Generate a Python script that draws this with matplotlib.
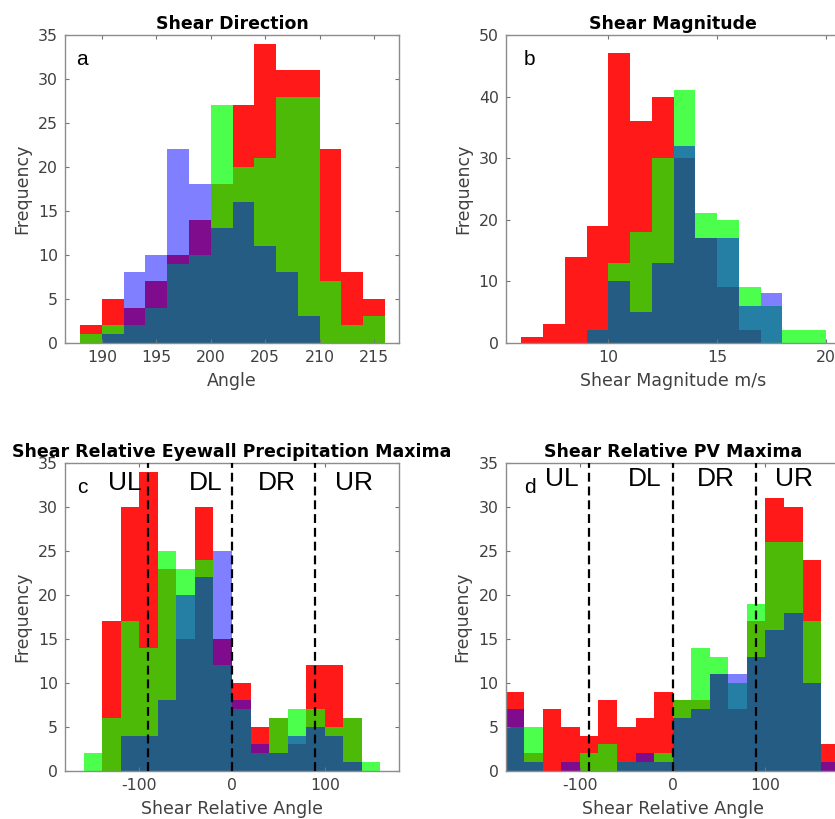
import numpy as np
import matplotlib
matplotlib.use('Agg')
import matplotlib.pyplot as plt

# bin edges and counts for each panel (red, green, blue series)
a_edges = np.arange(188, 218, 2)
a_red = [2, 5, 4, 7, 10, 14, 18, 27, 34, 31, 31, 22, 8, 5]
a_green = [1, 2, 2, 4, 9, 10, 27, 20, 21, 28, 28, 7, 2, 3]
a_blue = [0, 1, 8, 10, 22, 18, 13, 16, 11, 8, 3, 0, 0, 0]

b_edges = np.arange(6, 21, 1)
b_red = [1, 3, 14, 19, 47, 36, 40, 30, 17, 9, 2, 0, 0, 0]
b_green = [0, 0, 0, 2, 13, 18, 30, 41, 21, 20, 9, 6, 2, 2]
b_blue = [0, 0, 0, 2, 10, 5, 13, 32, 17, 17, 6, 8, 0, 0]

c_edges = np.arange(-160, 180, 20)
c_red = [0, 17, 30, 34, 23, 15, 30, 15, 10, 5, 6, 3, 12, 12, 6, 0]
c_green = [2, 6, 17, 14, 25, 23, 24, 12, 7, 2, 6, 7, 7, 5, 6, 1]
c_blue = [0, 0, 4, 4, 8, 20, 22, 25, 8, 3, 2, 4, 5, 4, 1, 0]

d_edges = np.arange(-180, 200, 20)
d_red = [9, 2, 7, 5, 4, 8, 5, 6, 9, 8, 8, 11, 7, 17, 31, 30, 24, 3]
d_green = [5, 5, 0, 0, 2, 3, 1, 1, 2, 8, 14, 13, 10, 19, 26, 26, 17, 0]
d_blue = [7, 1, 0, 1, 0, 0, 1, 2, 1, 6, 7, 11, 11, 13, 16, 18, 10, 1]

quadrants = ['UL', 'DL', 'DR', 'UR']
quad_lines = [-90, 0, 90]

plt.rcParams['font.family'] = 'DejaVu Sans'
plt.rcParams['axes.unicode_minus'] = False

fig = plt.figure(figsize=(8.35, 8.19), dpi=100)


def panel(rect, edges, red, green, blue, title, xlabel, letter, xlim, ylim,
          xticks, yticks, letter_x):
    ax = fig.add_axes(rect)
    ax.stairs(red, edges, fill=True, color=(1, 0, 0), alpha=0.9, linewidth=0)
    ax.stairs(green, edges, fill=True, color=(0, 1, 0), alpha=0.7, linewidth=0)
    ax.stairs(blue, edges, fill=True, color=(0, 0, 1), alpha=0.5, linewidth=0)
    ax.set_xlim(*xlim)
    ax.set_ylim(*ylim)
    ax.set_xticks(xticks)
    ax.set_yticks(yticks)
    ax.tick_params(direction='in', top=True, right=True, length=3, width=0.8,
                   color='0.45', labelcolor='0.25', labelsize=11.3, pad=5)
    for s in ax.spines.values():
        s.set_color('0.55')
        s.set_linewidth(1.0)
    ax.set_title(title, fontsize=12.5, fontweight='bold', pad=4.5)
    ax.set_xlabel(xlabel, fontsize=12.5, color='0.25', labelpad=5)
    ax.set_ylabel('Frequency', fontsize=12.5, color='0.25', labelpad=5)
    ax.text(letter_x, 0.903, letter, transform=ax.transAxes, fontsize=15,
            family='Liberation Sans', ha='center', va='baseline')
    return ax


ax_a = panel([0.0778, 0.5816, 0.4, 0.3757], a_edges, a_red, a_green, a_blue,
             'Shear Direction', 'Angle', 'a', (186.6, 217.3), (0, 35),
             [190, 195, 200, 205, 210, 215], np.arange(0, 36, 5), 0.051)
ax_b = panel([0.6056, 0.5816, 0.4, 0.3757], b_edges, b_red, b_green, b_blue,
             'Shear Magnitude', 'Shear Magnitude m/s', 'b', (5.28, 20.64), (0, 50),
             [10, 15, 20], np.arange(0, 51, 10), 0.071)
ax_c = panel([0.0778, 0.059, 0.4, 0.3753], c_edges, c_red, c_green, c_blue,
             'Shear Relative Eyewall Precipitation Maxima', 'Shear Relative Angle',
             'c', (-180, 180), (0, 35), [-100, 0, 100], np.arange(0, 36, 5), 0.051)
ax_d = panel([0.6056, 0.059, 0.4, 0.3753], d_edges, d_red, d_green, d_blue,
             'Shear Relative PV Maxima', 'Shear Relative Angle',
             'd', (-180, 180), (0, 35), [-100, 0, 100], np.arange(0, 36, 5), 0.074)

# quadrant dividers and labels
for ax, xs, yb in [(ax_c, [-115, -28, 48, 132], 32.0), (ax_d, [-119, -30, 47, 131], 32.4)]:
    for q in quad_lines:
        ax.axvline(q, color='k', linewidth=1.6, linestyle=(0, (4, 2.2)), zorder=5)
    for x, name in zip(xs, quadrants):
        ax.text(x, yb, name, fontsize=19, family='Liberation Sans',
                ha='center', va='baseline')

fig.savefig('out.png', dpi=100)
